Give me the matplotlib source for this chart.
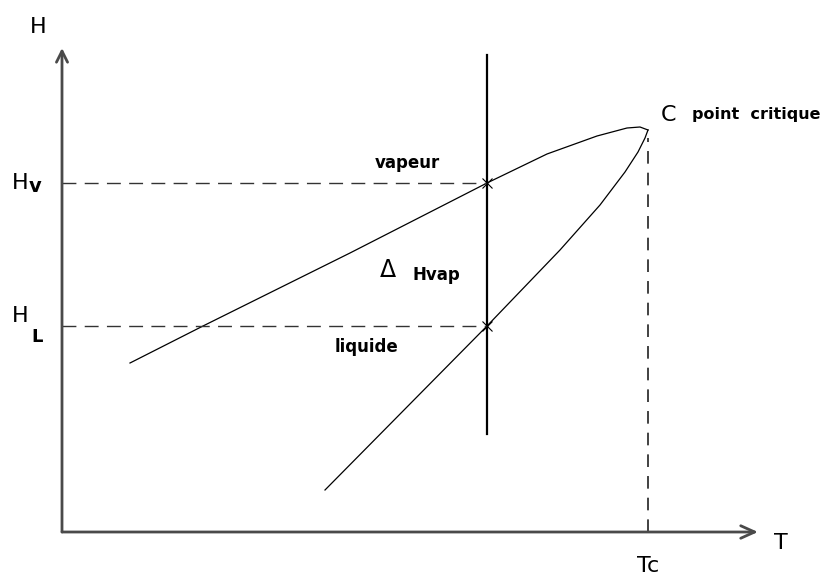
import numpy as np
import matplotlib.pyplot as plt

# diagram values, origin at the corner of the axes (T right, H up)
T_vapeur = [68, 141, 288, 425, 485, 535, 565, 578, 586]
H_vapeur = [169, 206, 279, 349, 378, 396, 404, 405, 402]
T_liquide = [263, 425, 498, 538, 563, 576, 583, 586]
H_liquide = [42, 206, 282, 327, 360, 380, 394, 402]

T_c = 586          # critical temperature
T_palier = 425     # isotherm
H_v = 349
H_L = 206
H_palier = [98, 477]   # extent of the vertical isotherm
T_max, H_max = 696, 484

plain = ['DejaVu Sans']
bold = ['DejaVu Sans']

fig = plt.figure(figsize=(8.27, 5.79), dpi=100)
ax = fig.add_axes([0, 0, 1, 1])
ax.set_xlim(-62, 765)
ax.set_ylim(-47, 532)
ax.axis('off')

# axes with open arrow heads
axis_col = '#4a4a4a'
ax.annotate('', xy=(T_max, 0), xytext=(0, 0),
            arrowprops=dict(arrowstyle='->,head_length=1.0,head_width=0.45',
                            color=axis_col, lw=2, shrinkA=0, shrinkB=0))
ax.annotate('', xy=(0, H_max), xytext=(0, 0),
            arrowprops=dict(arrowstyle='->,head_length=0.8,head_width=0.4',
                            color=axis_col, lw=2, shrinkA=0, shrinkB=0))

# saturation curve
ax.plot(T_vapeur, H_vapeur, color='black', lw=0.9)
ax.plot(T_liquide, H_liquide, color='black', lw=0.9)

# isotherm
ax.plot([T_palier, T_palier], H_palier, color='black', lw=1.6)

# dashed guides
dash = (0, (10, 6))
ax.plot([0, T_palier], [H_v, H_v], color='#333333', lw=1, linestyle=dash)
ax.plot([0, T_palier], [H_L, H_L], color='#333333', lw=1, linestyle=dash)
ax.plot([T_c, T_c], [0, H_vapeur[-1] - 8], color='#333333', lw=1.3, linestyle=(0, (7, 5)))

# little marks where the isotherm meets the curve
ax.plot([T_palier, T_palier], [H_v, H_L], linestyle='none', marker='x',
        ms=7, mew=0.8, color='black')

# labels
ax.text(-24, 505, 'H', family=plain, fontsize=16, ha='center', va='center')
ax.text(-42, 349, 'H', family=plain, fontsize=16, ha='center', va='center')
ax.text(-27, 346, 'v', family=bold, fontsize=14, fontweight='bold', ha='center', va='center')
ax.text(-42, 216, 'H', family=plain, fontsize=16, ha='center', va='center')
ax.text(-25, 195, 'L', family=bold, fontsize=13, fontweight='bold', ha='center', va='center')
ax.text(719, -11, 'T', family=plain, fontsize=16, ha='center', va='center')
ax.text(586, -34, 'Tc', family=plain, fontsize=16, ha='center', va='center')
ax.text(607, 417, 'C', family=plain, fontsize=16, ha='center', va='center')
ax.text(630, 417, 'point  critique', family=bold, fontsize=11.5, fontweight='bold',
        ha='left', va='center')
ax.text(313, 369, 'vapeur', family=bold, fontsize=12, fontweight='bold',
        ha='left', va='center')
ax.text(326, 262, 'Δ', family=plain, fontsize=17, ha='center', va='center')
ax.text(351, 257, 'Hvap', family=bold, fontsize=12, fontweight='bold',
        ha='left', va='center')
ax.text(273, 185, 'liquide', family=bold, fontsize=12, fontweight='bold',
        ha='left', va='center')

fig.savefig('out.png', dpi=100)
